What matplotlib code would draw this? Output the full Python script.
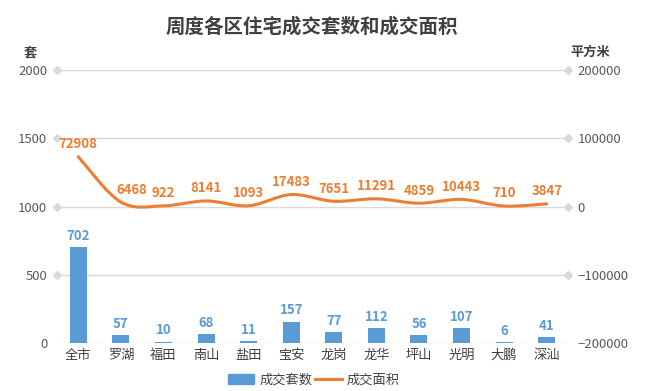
import matplotlib
matplotlib.use("Agg")
import matplotlib.pyplot as plt
from matplotlib.path import Path
from matplotlib.patches import PathPatch, Patch
from matplotlib.lines import Line2D
import numpy as np

plt.rcParams['font.family'] = ['Noto Sans CJK SC', 'DejaVu Sans']

categories = ['全市', '罗湖', '福田', '南山', '盐田', '宝安', '龙岗', '龙华', '坪山', '光明', '大鹏', '深汕']
units = [702, 57, 10, 68, 11, 157, 77, 112, 56, 107, 6, 41]
area = [72908, 6468, 922, 8141, 1093, 17483, 7651, 11291, 4859, 10443, 710, 3847]
left_ticks = [0, 500, 1000, 1500, 2000]
right_ticks = [-200000, -100000, 0, 100000, 200000]

BAR = '#5B9BD5'
LINE = '#ED7D31'
GRID = '#D9D9D9'
TXT = '#595959'

fig = plt.figure(figsize=(6.49, 3.91), dpi=100)
ax = fig.add_axes([57/649, 1-343/391, (568-57)/649, (343-70)/391])
ax2 = ax.twinx()

x = np.arange(len(categories))
ax.bar(x, units, width=0.4, color=BAR, zorder=2)
for xi, v in zip(x, units):
    ax.annotate(str(v), (xi, v), xytext=(0, 3), textcoords='offset points',
                ha='center', va='bottom', fontsize=9.5, fontweight='bold', color=BAR)

ax.set_xlim(-0.5, len(categories)-0.5)
ax.set_ylim(0, 2000)
ax.set_yticks(left_ticks)
ax.set_xticks(x)
ax.set_xticklabels(categories, fontsize=9.5, color='#404040')
for t in left_ticks:
    ax.axhline(t, color=GRID, lw=1, zorder=0)
ax.tick_params(axis='both', length=0, labelsize=9.5, colors=TXT)
ax.tick_params(axis='x', colors='#404040', pad=4)
ax.tick_params(axis='y', pad=7)
for s in ax.spines.values():
    s.set_visible(False)
for s in ax2.spines.values():
    s.set_visible(False)

# diamonds at gridline ends
for t in left_ticks[1:]:
    ax.plot([-0.5], [t], marker='D', ms=4, color=GRID, clip_on=False, zorder=1)
for t in right_ticks[1:]:
    ax2.plot([len(categories)-0.5], [t], marker='D', ms=4, color=GRID, clip_on=False, zorder=1)

ax2.set_ylim(-200000, 200000)
ax2.set_yticks(right_ticks)
ax2.tick_params(axis='y', length=0, labelsize=9.5, colors=TXT, pad=7)

# smooth line (Catmull-Rom bezier)
P = np.column_stack([x.astype(float), np.array(area, dtype=float)])
n = len(P)
verts = [P[0]]
codes = [Path.MOVETO]
for i in range(n-1):
    p0 = P[i-1] if i > 0 else P[i]
    p1 = P[i]
    p2 = P[i+1]
    p3 = P[i+2] if i+2 < n else P[i+1]
    c1 = p1 + (p2 - p0)/6
    c2 = p2 - (p3 - p1)/6
    verts += [c1, c2, p2]
    codes += [Path.CURVE4]*3
path = Path(verts, codes)
ax2.add_patch(PathPatch(path, facecolor='none', edgecolor=LINE, lw=2.2, zorder=3, capstyle='round'))
for i, (xi, v) in enumerate(zip(x, area)):
    dx = 8 if i == 1 else 0
    ax2.annotate(str(v), (xi, v), xytext=(dx, 4), textcoords='offset points',
                 ha='center', va='bottom', fontsize=9.5, fontweight='bold', color=LINE)

fig.text(312/649, 1-27/391, '周度各区住宅成交套数和成交面积', ha='center', va='center',
         fontsize=14, fontweight='bold', color='#404040')
fig.text(30/649, 1-52/391, '套', ha='center', va='center', fontsize=9.5, fontweight='bold', color='#404040')
fig.text(590/649, 1-52/391, '平方米', ha='center', va='center', fontsize=9.5, fontweight='bold', color='#404040')

handles = [Patch(color=BAR), Line2D([0], [0], color=LINE, lw=2.2)]
fig.legend(handles, ['成交套数', '成交面积'], loc='center', bbox_to_anchor=(314/649, 1-380/391),
           ncol=2, frameon=False, fontsize=9.5, handlelength=2.0, handletextpad=0.4,
           columnspacing=0.2, labelcolor='#404040')

fig.savefig('out.png', dpi=100)
